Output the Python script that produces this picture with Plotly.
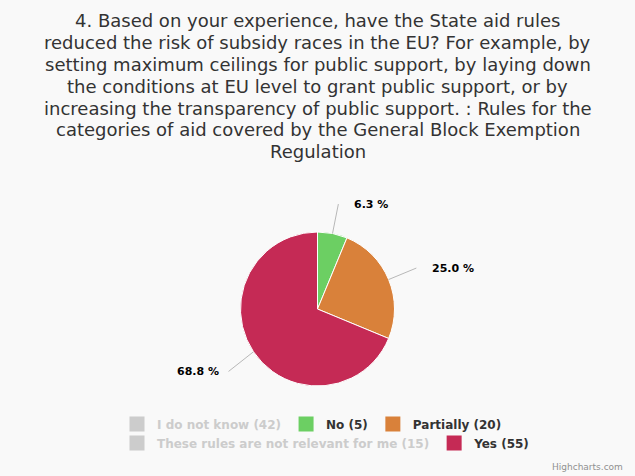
import numpy as np
import plotly.graph_objects as go

# survey answers, in legend order
categories = [
    "I do not know",
    "No",
    "Partially",
    "These rules are not relevant for me",
    "Yes",
]
counts = [42, 5, 20, 15, 55]
# answers switched off in the legend (left out of the pie)
shown = [False, True, True, False, True]
legend_rows = [1, 1, 1, 2, 2]

title_lines = [
    "4. Based on your experience, have the State aid rules",
    "reduced the risk of subsidy races in the EU? For example, by",
    "setting maximum ceilings for public support, by laying down",
    "the conditions at EU level to grant public support, or by",
    "increasing the transparency of public support. : Rules for the",
    "categories of aid covered by the General Block Exemption",
    "Regulation",
]

slice_colors = ["#cccccc", "#6ccf63", "#d9813a", "#cccccc", "#c52a55"]
FONT = "DejaVu Sans"
W, H = 635, 476

# pie box in pixels (centre and radius) and label distance, Highcharts style
PIE_CX, PIE_CY, PIE_R = 317.5, 309, 77
LABEL_DIST = 30
TITLE_TOP, TITLE_LINE_H = 21, 21.8

pie_labels = [c for c, s in zip(categories, shown) if s]
pie_values = np.array([v for v, s in zip(counts, shown) if s], dtype=float)
pie_colors = [col for col, s in zip(slice_colors, shown) if s]
pie_pct = pie_values / pie_values.sum() * 100

fig = go.Figure()

fig.add_trace(go.Pie(
    labels=pie_labels,
    values=pie_values,
    sort=False,
    direction="clockwise",
    rotation=0,
    showlegend=False,
    marker=dict(colors=pie_colors, line=dict(color="white", width=1)),
    textinfo="none",
    hoverinfo="label+value",
    domain=dict(
        x=[(PIE_CX - PIE_R) / W, (PIE_CX + PIE_R) / W],
        y=[1 - (PIE_CY + PIE_R) / H, 1 - (PIE_CY - PIE_R) / H],
    ),
))

# data labels with connectors, placed at the middle angle of each slice
annotations = []
start = np.concatenate([[0], np.cumsum(pie_pct)[:-1]])
for pct, s0 in zip(pie_pct, start):
    ang = np.deg2rad((s0 + pct / 2) / 100 * 360)
    right = np.sin(ang) >= 0
    ex, ey = PIE_CX + PIE_R * np.sin(ang), PIE_CY - PIE_R * np.cos(ang)
    lx = PIE_CX + (PIE_R + LABEL_DIST) * np.sin(ang)
    ly = PIE_CY - (PIE_R + LABEL_DIST) * np.cos(ang)
    shown_pct = np.floor(pct * 10 + 0.5) / 10  # round half up like JS
    annotations.append(dict(
        text=f"<b>{shown_pct:.1f} %</b>",
        xref="paper", yref="paper",
        x=ex / W, y=1 - ey / H,
        ax=lx - ex, ay=ly - ey + (0 if np.cos(ang) > 0 else 3),
        xanchor="left" if right else "right",
        yanchor="middle",
        borderpad=15 if right else 9,
        showarrow=True,
        arrowhead=0,
        arrowwidth=1,
        arrowcolor="#b8b8b8",
        font=dict(family=FONT, size=11, color="#000000"),
    ))

# title, one line per annotation so the line spacing follows the original
for i, line in enumerate(title_lines):
    annotations.append(dict(
        text=line,
        xref="paper", yref="paper",
        x=0.5, y=1 - (TITLE_TOP + i * TITLE_LINE_H) / H,
        xanchor="center", yanchor="middle",
        showarrow=False,
        font=dict(family=FONT, size=18, color="#333333"),
    ))

annotations.append(dict(
    text="Highcharts.com",
    xref="paper", yref="paper",
    x=1 - 10 / W, y=1 - 467 / H,
    xanchor="right", yanchor="middle",
    showarrow=False,
    font=dict(family=FONT, size=9, color="#909090"),
))

# legend entries, one per answer; hidden answers drawn in grey
for cat, n, s, col, row in zip(categories, counts, shown, slice_colors, legend_rows):
    label = f"{cat} ({n})"
    if not s:
        label = f'<span style="color:#cccccc">{label}</span>'
    fig.add_trace(go.Scatter(
        x=[None], y=[None],
        mode="markers",
        name=label,
        marker=dict(symbol="square", size=15, color=col if s else "#cccccc"),
        legend="legend" if row == 1 else "legend2",
        hoverinfo="skip",
    ))

legend_style = dict(
    orientation="h",
    xanchor="left",
    yanchor="middle",
    x=117 / W,
    bgcolor="rgba(0,0,0,0)",
    font=dict(family=FONT, size=12, color="#333333", weight="bold"),
)

fig.update_layout(
    width=W,
    height=H,
    paper_bgcolor="#f9f9f9",
    plot_bgcolor="#f9f9f9",
    margin=dict(l=0, r=0, t=0, b=0, autoexpand=False),
    xaxis=dict(visible=False),
    yaxis=dict(visible=False),
    legend=dict(legend_style, y=1 - 424 / H),
    legend2=dict(legend_style, y=1 - 443 / H),
    annotations=annotations,
)

# the page body keeps its default 8px margin otherwise
fig.write_html(
    "out.html",
    config={"displayModeBar": False},
    post_script="document.body.style.margin = '0';",
)
